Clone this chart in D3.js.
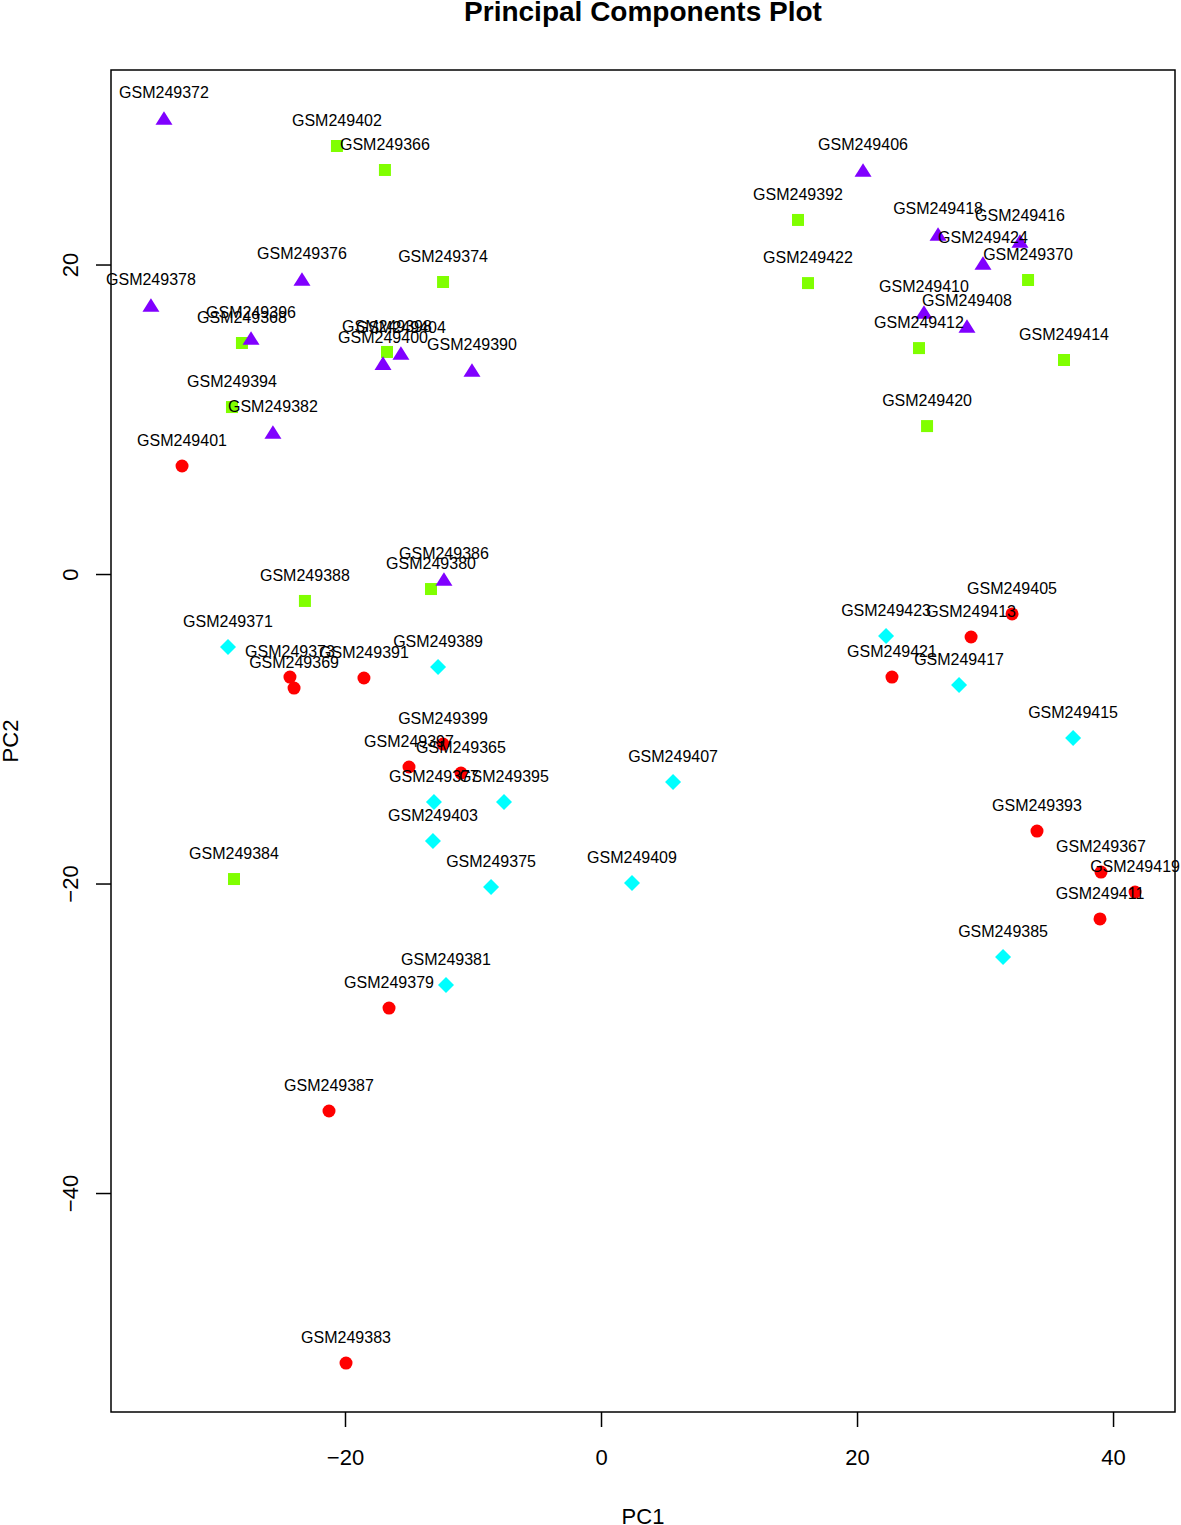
<!DOCTYPE html>
<html>
<head>
<meta charset="utf-8">
<script src="https://cdn.jsdelivr.net/npm/d3@7"></script>
<style>
  body { margin: 0; background: #fff; }
  text { font-family: "Liberation Sans", Arial, Helvetica, sans-serif; }
</style>
</head>
<body>
<script>
const width = 1181;
const height = 1525;
const margin = { left: 111, right: 6, top: 70, bottom: 113 };

// sample ids, GSM249365 .. GSM249424
const samples = d3.range(249365, 249425).map(d => 'GSM' + d);

const pc1 = [
  -10.94, -16.88, 39.06, -28.05, -23.98, 33.36, -29.14, -34.14, -24.30, -12.34,
  -8.59, -23.36, -13.05, -35.16, -16.56, -13.28, -12.11, -25.63, -19.92, -28.67,
  31.41, -12.27, -21.25, -23.13, -12.73, -10.08, -18.52, 15.39, 34.06, -28.83,
  -7.58, -27.34, -15.00, -16.72, -12.34, -17.03, -32.73, -20.63, -13.13, -15.63,
  32.11, 20.47, 5.63, 28.59, 2.42, 25.23, 38.98, 24.84, 28.91, 36.17,
  36.88, 32.73, 27.97, 26.33, 41.72, 25.47, 22.73, 16.17, 22.27, 29.84
];

const pc2 = [
  -12.86, 26.11, -19.26, 14.93, -7.37, 19.00, -4.72, 29.47, -6.66, 18.87,
  -20.23, 19.06, -14.73, 17.38, -28.05, -0.97, -26.56, 9.18, -50.99, -19.71,
  -24.75, -0.32, -34.70, -1.74, -6.01, 13.18, -6.72, 22.88, -16.61, 10.79,
  -14.73, 15.25, -12.47, 14.35, -10.99, 13.63, 6.98, 27.66, -17.25, 14.28,
  -2.58, 26.11, -13.44, 16.03, -19.97, 16.93, -22.29, 14.60, -4.07, 13.83,
  -10.60, 21.52, -7.17, 21.97, -20.55, 9.56, -6.66, 18.80, -4.01, 20.10
];

// group of each sample: 1 = red circle, 2 = green square, 3 = cyan diamond, 4 = purple triangle
const group = [
  1, 2, 1, 2, 1, 2, 3, 4, 1, 2,
  3, 4, 3, 4, 1, 2, 3, 4, 1, 2,
  3, 4, 1, 2, 3, 4, 1, 2, 1, 2,
  3, 4, 1, 2, 1, 4, 1, 2, 3, 4,
  1, 4, 3, 4, 3, 4, 1, 2, 1, 2,
  3, 4, 3, 4, 1, 2, 1, 2, 3, 4
];

const xTicks = [-20, 0, 20, 40];
const yTicks = [-40, -20, 0, 20];
const xLim = [-38.28, 44.84];
const yLim = [-54.15, 32.57];

const data = samples.map((s, i) => ({ id: s, x: pc1[i], y: pc2[i], g: group[i] }));

// rainbow(4)
const colors = { 1: '#FF0000', 2: '#80FF00', 3: '#00FFFF', 4: '#8000FF' };

// shapes centred on their bounding box, size = width in px
const triangle = { draw(ctx, s) { const h = s * 0.8; ctx.moveTo(0, -h / 2); ctx.lineTo(s / 2, h / 2); ctx.lineTo(-s / 2, h / 2); ctx.closePath(); } };
const square = { draw(ctx, s) { ctx.rect(-s / 2, -s / 2, s, s); } };
const diamond = { draw(ctx, s) { const r = s / 2; ctx.moveTo(0, -r); ctx.lineTo(r, 0); ctx.lineTo(0, r); ctx.lineTo(-r, 0); ctx.closePath(); } };
const circle = { draw(ctx, s) { ctx.moveTo(s / 2, 0); ctx.arc(0, 0, s / 2, 0, 2 * Math.PI); } };
const shapes = { 1: [circle, 13], 2: [square, 12], 3: [diamond, 16], 4: [triangle, 17] };

const x = d3.scaleLinear()
  .domain(xLim)
  .range([margin.left, width - margin.right]);

const y = d3.scaleLinear()
  .domain(yLim)
  .range([height - margin.bottom, margin.top]);

const svg = d3.select('body')
  .append('svg')
  .attr('width', width)
  .attr('height', height);

// points first, labels over them (as R does)
svg.append('g')
  .selectAll('path')
  .data(data)
  .enter()
  .append('path')
  .attr('transform', d => `translate(${x(d.x)},${y(d.y)})`)
  .attr('d', d => d3.symbol().type(shapes[d.g][0]).size(shapes[d.g][1])())
  .attr('fill', d => colors[d.g]);

svg.append('g')
  .selectAll('text')
  .data(data)
  .enter()
  .append('text')
  .attr('x', d => x(d.x))
  .attr('y', d => y(d.y) - 20)
  .attr('text-anchor', 'middle')
  .attr('font-size', 16)
  .attr('fill', '#000')
  .text(d => d.id);

// axes
const xAxis = d3.axisBottom(x).tickValues(xTicks).tickSize(15).tickSizeOuter(0);
const gx = svg.append('g')
  .attr('transform', `translate(0,${height - margin.bottom})`)
  .call(xAxis);
gx.select('.domain').remove();
gx.selectAll('.tick line').attr('stroke', '#000').attr('stroke-width', 1.5);
gx.selectAll('.tick text')
  .attr('y', 53).attr('dy', 0)
  .attr('font-size', 22).attr('fill', '#000')
  .attr('font-family', '"Liberation Sans", Arial, sans-serif');

const yAxis = d3.axisLeft(y).tickValues(yTicks).tickSize(15).tickSizeOuter(0);
const gy = svg.append('g')
  .attr('transform', `translate(${margin.left},0)`)
  .call(yAxis);
gy.select('.domain').remove();
gy.selectAll('.tick line').attr('stroke', '#000').attr('stroke-width', 1.5);
gy.selectAll('.tick text')
  .attr('x', 0).attr('dy', 0)
  .attr('transform', 'translate(-33,0) rotate(-90)')
  .attr('text-anchor', 'middle')
  .attr('font-size', 22).attr('fill', '#000')
  .attr('font-family', '"Liberation Sans", Arial, sans-serif');

// box
svg.append('rect')
  .attr('x', margin.left)
  .attr('y', margin.top)
  .attr('width', width - margin.left - margin.right)
  .attr('height', height - margin.top - margin.bottom)
  .attr('fill', 'none')
  .attr('stroke', '#000')
  .attr('stroke-width', 1.5);

// titles
svg.append('text')
  .attr('x', (margin.left + width - margin.right) / 2)
  .attr('y', 21)
  .attr('text-anchor', 'middle')
  .attr('font-size', 28)
  .attr('font-weight', 'bold')
  .text('Principal Components Plot');

svg.append('text')
  .attr('x', (margin.left + width - margin.right) / 2)
  .attr('y', 1524)
  .attr('text-anchor', 'middle')
  .attr('font-size', 22)
  .text('PC1');

svg.append('text')
  .attr('transform', `translate(18,${(margin.top + height - margin.bottom) / 2}) rotate(-90)`)
  .attr('text-anchor', 'middle')
  .attr('font-size', 22)
  .text('PC2');
</script>
</body>
</html>
